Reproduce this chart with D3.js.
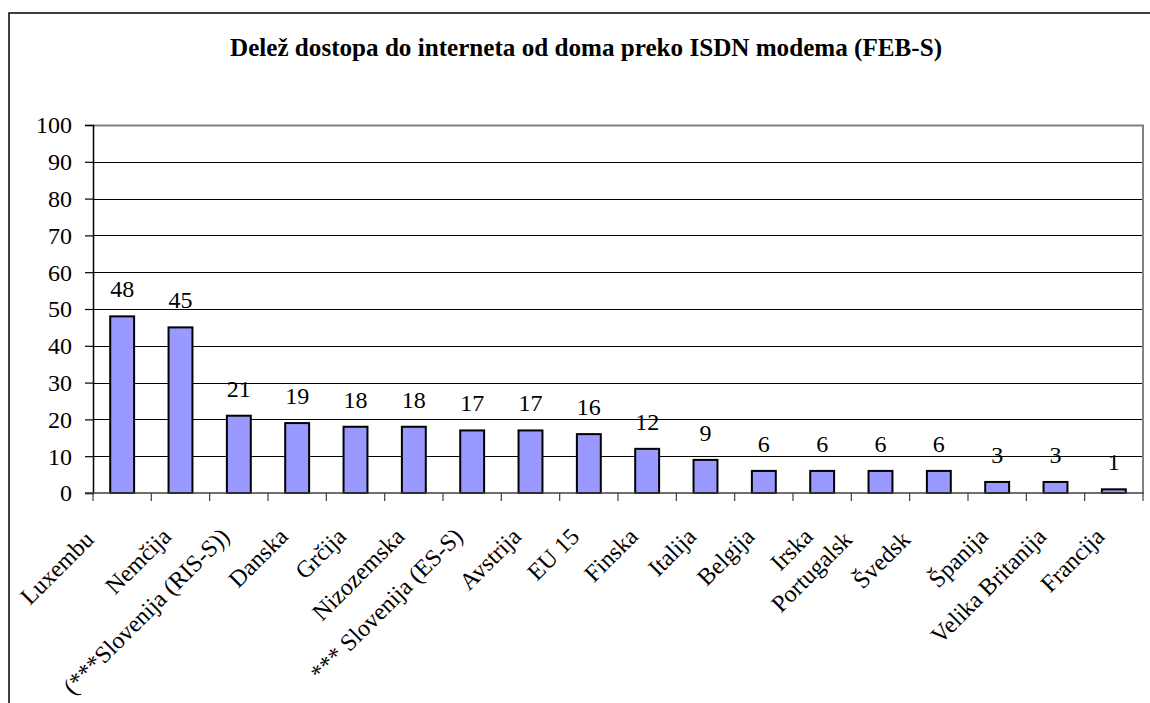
<!DOCTYPE html>
<html>
<head>
<meta charset="utf-8">
<script src="https://cdn.jsdelivr.net/npm/d3@7"></script>
<style>
  html, body { margin: 0; padding: 0; background: #fff; }
  svg { display: block; }
  text { font-family: "Liberation Serif", "Times New Roman", serif; fill: #000; }
</style>
</head>
<body>
<svg id="chart" width="1150" height="703"></svg>
<script>
const title = "Delež dostopa do interneta od doma preko ISDN modema (FEB-S)";
const categories = ["Luxembu", "Nemčija", "(***Slovenija (RIS-S))", "Danska", "Grčija", "Nizozemska",
  "*** Slovenija (ES-S)", "Avstrija", "EU 15", "Finska", "Italija", "Belgija", "Irska",
  "Portugalsk", "Švedsk", "Španija", "Velika Britanija", "Francija"];
// labels that are cut short in the original picture
const truncatedLabels = ["Luxembu", "Portugalsk", "Švedsk"];
const values = [48, 45, 21, 19, 18, 18, 17, 17, 16, 12, 9, 6, 6, 6, 6, 3, 3, 1];
const yTicks = [0, 10, 20, 30, 40, 50, 60, 70, 80, 90, 100];

const svg = d3.select("#chart");
const plot = { left: 93, right: 1143, top: 125, bottom: 493 };

// outer frame (extends beyond the visible area on right/bottom)
svg.append("rect").attr("x", 9).attr("y", 13).attr("width", 1300).attr("height", 900)
  .attr("fill", "none").attr("stroke", "#000").attr("stroke-width", 1.5);

// title
svg.append("text").attr("x", 230).attr("y", 56)
  .attr("font-size", 26).attr("font-weight", "bold")
  .attr("textLength", 712).attr("lengthAdjust", "spacingAndGlyphs")
  .text(title);

const x = d3.scaleBand().domain(categories).range([plot.left, plot.right]).paddingInner(0.59).paddingOuter(0.295);
const xb = d3.scaleBand().domain(categories).range([plot.left, plot.right]);
const y = d3.scaleLinear().domain([0, 100]).range([plot.bottom, plot.top]);

// gridlines
svg.append("g").selectAll("line").data(yTicks.filter(t => t > 0 && t < 100)).join("line")
  .attr("x1", plot.left).attr("x2", plot.right)
  .attr("y1", d => Math.round(y(d)) + 0.5).attr("y2", d => Math.round(y(d)) + 0.5)
  .attr("stroke", "#000").attr("stroke-width", 1);

// plot border top/right gray
svg.append("line").attr("x1", plot.left).attr("x2", plot.right + 1)
  .attr("y1", plot.top + 0.5).attr("y2", plot.top + 0.5)
  .attr("stroke", "#808080").attr("stroke-width", 2);
svg.append("line").attr("x1", plot.right).attr("x2", plot.right)
  .attr("y1", plot.top).attr("y2", plot.bottom)
  .attr("stroke", "#808080").attr("stroke-width", 2);

// bars
svg.append("g").selectAll("rect").data(values).join("rect")
  .attr("x", (d, i) => x(categories[i]))
  .attr("y", d => y(d))
  .attr("width", x.bandwidth())
  .attr("height", d => y(0) - y(d))
  .attr("fill", "#9999FF").attr("stroke", "#000").attr("stroke-width", 2);

// value labels
svg.append("g").selectAll("text").data(values).join("text")
  .attr("x", (d, i) => xb(categories[i]) + xb.bandwidth() / 2)
  .attr("y", d => y(d) - 19)
  .attr("text-anchor", "middle").attr("font-size", 24)
  .text(d => d);

// y axis
const yAxis = d3.axisLeft(y).tickValues(yTicks).tickSize(8).tickPadding(13);
const gy = svg.append("g").attr("transform", `translate(${plot.left},0)`).call(yAxis);
gy.attr("font-family", null);
gy.select(".domain").attr("stroke", "#000").attr("stroke-width", 1.5);
gy.selectAll(".tick line").attr("stroke", "#000").attr("stroke-width", 1.2);
gy.selectAll(".tick text").attr("font-size", 24).attr("dy", "0.33em");

// x axis line and ticks
svg.append("line").attr("x1", plot.left - 8).attr("x2", plot.right + 1)
  .attr("y1", plot.bottom).attr("y2", plot.bottom)
  .attr("stroke", "#404040").attr("stroke-width", 1.5);
const boundaries = categories.map(c => xb(c)).concat([plot.right]);
svg.append("g").selectAll("line").data(boundaries).join("line")
  .attr("x1", d => d).attr("x2", d => d)
  .attr("y1", plot.bottom).attr("y2", plot.bottom + 8)
  .attr("stroke", "#404040").attr("stroke-width", 1.2);

// category labels rotated
svg.append("g").selectAll("text").data(categories).join("text")
  .attr("transform", d => {
    const t = truncatedLabels.includes(d);
    const ax = xb(d) + xb.bandwidth() / 2 - 8 + (t ? -19 : 0);
    const ay = 538 + (t ? 3 : 0);
    return `translate(${ax},${ay}) rotate(-45)`;
  })
  .attr("text-anchor", "end").attr("font-size", 24)
  .text(d => d);
</script>
</body>
</html>
